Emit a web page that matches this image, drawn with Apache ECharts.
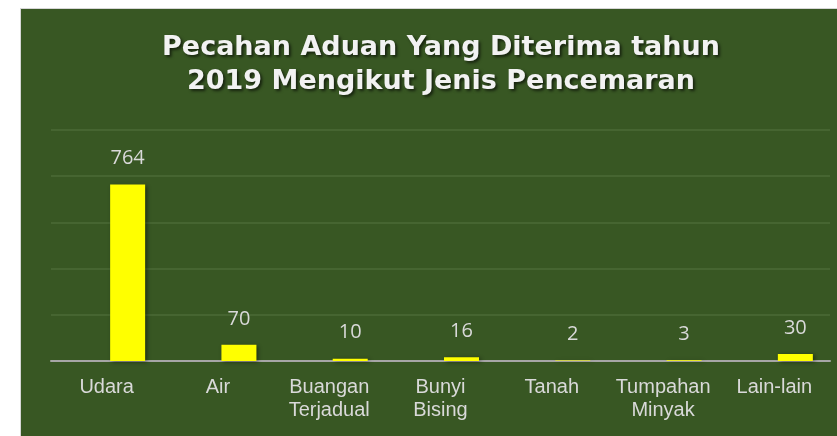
<!DOCTYPE html>
<html>
<head>
<meta charset="utf-8">
<script src="https://cdn.jsdelivr.net/npm/echarts@6/dist/echarts.min.js"></script>
<style>
  html, body { margin: 0; padding: 0; background: #ffffff; }
  #chart { position: absolute; left: 20px; top: 8px; width: 817px; height: 428px; border-top: 1px solid #d6d6d6; border-left: 1px solid #d6d6d6; box-sizing: border-box; }
</style>
</head>
<body>
<div id="chart"></div>
<script>
// data
var categories = ['Udara', 'Air', 'Buangan\nTerjadual', 'Bunyi\nBising', 'Tanah', 'Tumpahan\nMinyak', 'Lain-lain'];
var values = [764, 70, 10, 16, 2, 3, 30];
var yTicks = [0, 200, 400, 600, 800, 1000];

var myChart = echarts.init(document.getElementById('chart'));

var option = {
  backgroundColor: '#385723',
  title: {
    text: 'Pecahan Aduan Yang Diterima tahun\n2019 Mengikut Jenis Pencemaran',
    left: 415,
    textAlign: 'center',
    top: 17,
    textStyle: {
      color: '#f2f2f2',
      fontFamily: 'DejaVu Sans',
      fontWeight: 'bold',
      fontSize: 27,
      lineHeight: 34,
      textShadowColor: 'rgba(0,0,0,0.6)',
      textShadowBlur: 3,
      textShadowOffsetX: 2,
      textShadowOffsetY: 2
    }
  },
  grid: { left: 30, right: 7, top: 121, bottom: 75 },
  xAxis: {
    type: 'category',
    data: categories,
    axisTick: { show: false },
    axisLine: { lineStyle: { color: '#a6a6a6', width: 2 } },
    axisLabel: {
      color: '#d9d9d9',
      fontFamily: 'Liberation Sans',
      fontSize: 20,
      lineHeight: 23,
      margin: 15,
      interval: 0
    }
  },
  yAxis: {
    type: 'value',
    min: yTicks[0],
    max: yTicks[yTicks.length - 1],
    interval: yTicks[1] - yTicks[0],
    axisLabel: { show: false },
    axisLine: { show: false },
    axisTick: { show: false },
    splitLine: { lineStyle: { color: '#4b6a37', width: 1.5 } }
  },
  series: [
    {
      // empty first slot so the bars sit to the right of the label, like the original
      type: 'bar',
      data: [],
      barWidth: 35,
      barGap: '20%'
    },
    {
      type: 'bar',
      data: values,
      barWidth: 35,
      barGap: '20%',
      itemStyle: {
        color: '#ffff00',
        shadowColor: 'rgba(0,0,0,0.45)',
        shadowBlur: 4,
        shadowOffsetX: 2,
        shadowOffsetY: 1
      },
      label: {
        show: true,
        position: 'top',
        distance: 16,
        color: '#d9d9d9',
        fontFamily: 'Open Sans',
        fontSize: 20
      }
    }
  ]
};

myChart.setOption(option);
</script>
</body>
</html>
